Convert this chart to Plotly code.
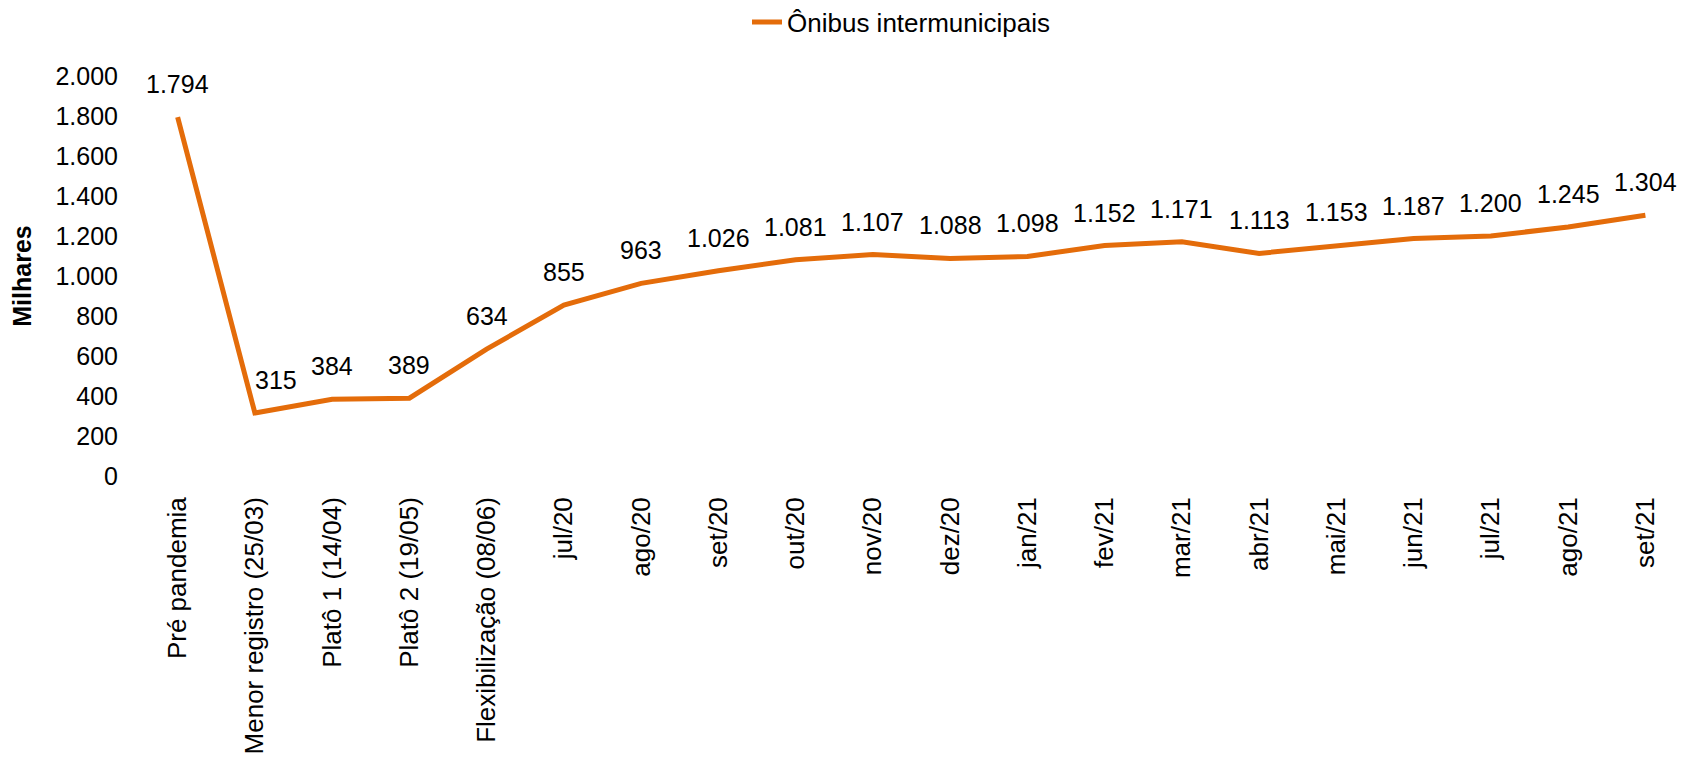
import plotly.graph_objects as go

categories = ["Pré pandemia", "Menor registro (25/03)", "Platô 1 (14/04)", "Platô 2 (19/05)",
              "Flexibilização (08/06)", "jul/20", "ago/20", "set/20", "out/20", "nov/20",
              "dez/20", "jan/21", "fev/21", "mar/21", "abr/21", "mai/21", "jun/21", "jul/21",
              "ago/21", "set/21"]
values = [1794, 315, 384, 389, 634, 855, 963, 1026, 1081, 1107, 1088, 1098, 1152, 1171,
          1113, 1153, 1187, 1200, 1245, 1304]
series_name = "Ônibus intermunicipais"
y_ticks = [0, 200, 400, 600, 800, 1000, 1200, 1400, 1600, 1800, 2000]


def fmt(v):
    return f"{v:,}".replace(",", ".")


FONT = "Liberation Sans, Arial, sans-serif"
COLOR = "#E46C0A"
W, H = 1681, 749  # page body has an 8px default margin
label_xshift = {"Menor registro (25/03)": 21}

fig = go.Figure()
fig.add_trace(go.Scatter(
    x=categories, y=values, mode="lines", name=series_name,
    line=dict(color=COLOR, width=5),
))

for c, v in zip(categories, values):
    fig.add_annotation(x=c, y=v, text=fmt(v), showarrow=False, yshift=33,
                       xshift=label_xshift.get(c, 0),
                       font=dict(family=FONT, size=25, color="#000000"))

fig.update_layout(
    width=W, height=H,
    margin=dict(l=131, r=5, t=68, b=281, autoexpand=False),
    paper_bgcolor="white", plot_bgcolor="white",
    font=dict(family=FONT, size=25, color="#000000"),
    showlegend=True,
    legend=dict(orientation="h", x=739 / W, xanchor="left", xref="container",
                y=1 - 14 / H, yanchor="middle", yref="container",
                font=dict(size=26, family=FONT)),
    xaxis=dict(type="category", range=[-0.5, len(categories) - 0.5], tickangle=-90,
               showgrid=False, zeroline=False, showline=False, ticks="",
               ticklabelstandoff=15,
               tickfont=dict(size=26, family=FONT)),
    yaxis=dict(range=[0, 2000], tickvals=y_ticks, ticktext=[fmt(t) for t in y_ticks],
               showgrid=False, zeroline=False, showline=False, ticks="",
               ticklabelstandoff=20,
               tickfont=dict(size=25, family=FONT),
               title=dict(text="<b>Milhares</b>", standoff=21,
                          font=dict(size=25, family=FONT))),
)

fig.write_html("out.html")
